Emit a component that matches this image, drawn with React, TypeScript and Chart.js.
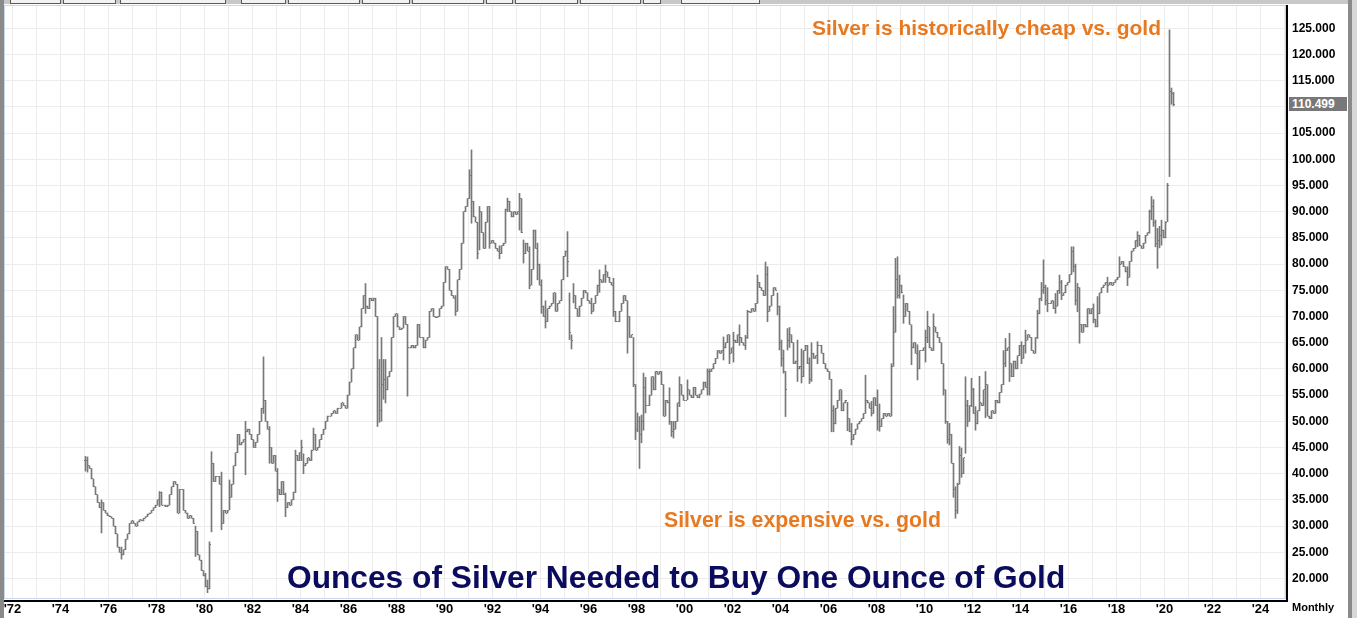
import React, { useEffect, useRef } from 'react';
import { Chart, registerables } from 'chart.js';

Chart.register(...registerables);

// ---------------- data (monthly gold / silver ratio) ----------------
const START_YEAR = 1975;

const close1970s = [
  42.5, 41.5, 41.0, 39.0, 37.5, 36.0, 34.5, 33.5, 34.5, 33.0, 32.5, 32.0,
  31.8, 31.5, 30.0, 28.5, 26.0, 25.0, 24.5, 25.5, 27.5, 28.5, 30.5, 31.0,
  30.5, 30.0, 30.8, 31.2, 31.0, 31.5, 31.8, 32.3, 32.5, 33.0, 33.5, 34.0,
  35.0, 36.5, 34.0, 34.0, 33.7, 34.0, 36.0, 37.5, 38.5, 38.0, 32.5, 37.0,
  37.0, 33.0, 32.5, 31.5, 32.0, 31.5, 30.5, 29.0, 24.5, 23.5, 21.5, 20.5,
];

const close1980s = [
  18.5, 18.0, 26.5, 42.0, 38.5, 39.5, 39.5, 38.0, 30.5, 33.0, 32.5, 33.0,
  35.5, 38.0, 41.5, 44.0, 47.5, 45.5, 46.0, 46.5, 48.0, 48.5, 47.5, 46.5,
  45.0, 46.0, 47.5, 50.0, 52.5, 54.0, 50.0, 48.5, 45.0, 42.0, 43.5, 40.5,
  37.0, 36.0, 38.5, 36.0, 33.5, 34.5, 34.0, 35.0, 36.5, 43.5, 42.5, 44.0,
  45.0, 41.5, 42.0, 43.0, 42.5, 44.5, 47.5, 44.5, 45.0, 46.5, 47.5, 48.5,
  50.0, 51.0, 51.0, 51.5, 52.0, 51.5, 52.5, 52.5, 53.5, 53.0, 52.5, 55.0,
  57.5, 60.0, 64.0, 66.5, 65.5, 68.0, 71.5, 74.0, 72.0, 71.5, 73.5, 73.0,
  73.5, 70.0, 60.0, 52.0, 57.0, 58.0, 56.0, 58.5, 59.5, 66.0, 70.0, 70.5,
  68.0, 67.5, 67.8, 70.0, 68.5, 64.0, 64.0, 64.5, 64.0, 64.5, 68.5, 66.0,
  66.0, 64.0, 65.5, 66.0, 71.0, 71.5, 70.0, 69.8, 70.0, 71.5, 72.0, 76.5,
];

const close1990s = [
  79.5, 79.0, 75.0, 74.0, 73.5, 71.0, 77.0, 79.0, 84.0, 90.0, 91.0, 92.5,
  97.0, 92.0, 89.0, 88.0, 82.0, 90.0, 86.0, 83.0, 88.0, 91.0, 84.0, 84.5,
  84.0, 83.0, 82.5, 82.0, 83.5, 84.0, 90.5, 92.0, 90.0, 89.0, 90.0, 89.5,
  90.0, 92.5, 86.0, 82.0, 84.0, 82.5, 76.0, 79.0, 86.5, 83.0, 80.0, 76.0,
  72.0, 70.0, 69.0, 71.5, 72.0, 72.5, 74.5, 71.0, 72.5, 73.0, 77.0, 81.5,
  82.5, 80.5, 67.0, 65.5, 74.0, 71.5, 70.0, 72.0, 73.5, 75.0, 74.5, 73.0,
  72.5, 71.0, 72.5, 74.0, 76.0, 77.0, 76.5, 78.0, 78.5, 77.5, 76.5, 76.0,
  71.0, 69.0, 69.0, 71.0, 72.5, 74.0, 73.0, 70.0, 66.0, 66.5, 57.0, 48.5,
  50.0, 47.5, 50.0, 56.5, 53.0, 53.0, 55.0, 58.5, 56.0, 59.5, 59.0, 59.5,
  57.0, 51.0, 54.0, 53.5, 50.0, 48.0, 48.5, 50.0, 53.5, 57.0, 55.0, 54.0,
];

const close2000s = [
  54.0, 56.0, 55.0, 54.5, 56.5, 55.0, 54.5, 55.2, 56.0, 57.5, 56.5, 59.5,
  59.5, 60.0, 61.0, 62.0, 63.5, 63.0, 63.5, 64.0, 65.0, 66.5, 63.0, 64.0,
  65.5, 65.0, 66.5, 66.0, 65.0, 64.5, 66.0, 71.0, 70.8, 71.5, 71.0, 72.5,
  76.5, 75.5, 75.0, 74.0, 78.0, 71.0, 72.0, 74.0, 75.5, 75.0, 72.0, 65.0,
  62.0, 59.5, 56.0, 65.5, 66.5, 65.0, 61.0, 61.5, 60.0, 60.5, 58.5, 63.5,
  64.5, 61.0, 58.0, 63.0, 62.0, 62.5, 64.5, 64.5, 63.0, 61.0, 60.0, 59.5,
  58.0, 52.0, 49.5, 52.5, 54.0, 56.0, 52.0, 53.5, 54.0, 50.5, 48.0, 46.5,
  47.5, 48.5, 49.5, 50.0, 50.5, 51.5, 54.0, 53.5, 52.5, 51.5, 54.5, 53.0,
  50.0, 49.0, 50.5, 51.5, 51.0, 51.5, 51.0, 60.5, 67.0, 77.0, 74.0, 76.0,
  74.5, 70.0, 72.5, 71.0, 68.5, 64.0, 65.0, 63.0, 60.0, 63.5, 63.5, 64.0,
];

const close2010s = [
  66.0, 68.0, 64.0, 63.5, 68.0, 67.0, 66.0, 65.0, 61.0, 56.0, 50.0, 46.5,
  47.5, 42.0, 37.0, 33.0, 38.0, 43.5, 40.0, 43.0, 53.0, 50.0, 53.0, 56.0,
  51.5, 49.5, 52.0, 53.5, 53.0, 56.0, 57.0, 51.0, 50.5, 52.0, 51.5, 54.0,
  53.5, 55.5, 57.0, 61.0, 63.5, 64.0, 61.0, 58.5, 61.5, 60.0, 62.5, 64.5,
  62.0, 64.5, 65.5, 66.5, 66.0, 63.5, 63.0, 66.0, 70.5, 73.5, 75.0, 75.5,
  73.0, 72.5, 72.5, 73.0, 71.5, 72.0, 75.0, 76.5, 74.0, 74.5, 76.0, 76.5,
  78.0, 82.5, 79.5, 73.0, 75.5, 68.5, 67.0, 68.5, 68.0, 71.5, 70.5, 71.5,
  69.5, 68.0, 70.5, 74.5, 75.5, 76.0, 76.5, 76.0, 76.5, 76.0, 76.5, 77.0,
  77.5, 80.0, 80.5, 79.5, 78.5, 77.5, 80.5, 82.5, 83.0, 84.5, 85.5, 83.5,
  83.0, 84.0, 85.5, 86.0, 90.0, 91.0, 88.0, 84.0, 84.5, 85.5, 86.5, 85.0,
];

const close2020s = [88.0, 95.0, 113.0, 112.5, 110.499];

// monthly bars whose high / low reach beyond the previous and current close
const barRanges: [string, number, number][] = [
  ['1975-01', 40.5, 43.3], ['1975-02', 40.3, 43.2], ['1975-09', 28.7, 35.0],
  ['1976-07', 23.7, 26.0], ['1978-02', 33.7, 36.6], ['1979-08', 24.2, 30.0],
  ['1980-01', 18.4, 21.0], ['1980-02', 17.3, 19.7], ['1980-03', 18.0, 27.0], ['1980-04', 28.9, 44.2], ['1980-09', 29.3, 40.3],
  ['1981-01', 33.1, 38.8], ['1981-09', 39.8, 50.0],
  ['1982-06', 51.5, 62.3], ['1982-09', 42.0, 49.0],
  ['1983-01', 34.7, 41.0], ['1983-05', 31.8, 36.3], ['1983-10', 36.4, 44.5],
  ['1984-01', 42.5, 46.4], ['1984-02', 40.0, 43.8], ['1984-07', 44.5, 48.7],
  ['1986-09', 70.6, 76.3],
  ['1987-03', 49.0, 70.0], ['1987-04', 49.8, 61.8], ['1987-05', 50.0, 66.0], ['1987-06', 54.2, 61.8], ['1987-07', 53.5, 61.8],
  ['1988-06', 54.8, 68.5], ['1990-06', 70.2, 74.0],
  ['1991-01', 92.5, 98.0], ['1991-02', 87.8, 101.8], ['1991-05', 81.0, 88.0], ['1991-06', 82.7, 91.0], ['1991-11', 83.0, 91.0],
  ['1992-04', 81.0, 83.5], ['1992-08', 90.0, 92.6],
  ['1993-02', 86.5, 93.5], ['1993-04', 80.2, 84.6], ['1993-07', 75.3, 83.3], ['1993-11', 77.0, 84.0],
  ['1994-01', 70.6, 77.0], ['1994-03', 67.8, 73.0],
  ['1995-02', 77.6, 86.2], ['1995-03', 65.6, 74.5], ['1995-04', 63.8, 66.5], ['1995-05', 72.6, 76.3],
  ['1996-02', 70.5, 73.5], ['1996-06', 74.6, 78.9], ['1996-09', 76.5, 79.8],
  ['1997-01', 70.0, 77.3], ['1997-08', 63.0, 73.0], ['1997-11', 56.6, 66.0], ['1997-12', 46.5, 57.0],
  ['1998-01', 48.0, 51.6], ['1998-02', 41.0, 50.9], ['1998-03', 45.9, 51.2], ['1998-04', 48.3, 59.2], ['1998-05', 51.6, 58.4],
  ['1999-05', 49.4, 56.4], ['1999-06', 47.1, 50.0], ['1999-07', 46.8, 50.0], ['1999-10', 52.8, 58.5],
  ['2000-02', 54.1, 57.9], ['2000-12', 55.0, 60.0],
  ['2001-01', 55.0, 60.0], ['2001-08', 61.7, 66.1], ['2001-11', 61.0, 66.5],
  ['2002-01', 61.3, 67.0], ['2002-04', 64.5, 68.4], ['2002-07', 63.7, 66.4], ['2002-08', 65.8, 71.2],
  ['2003-01', 72.5, 77.9], ['2003-05', 74.0, 80.4], ['2003-06', 69.0, 79.5], ['2003-11', 70.3, 74.5], ['2003-12', 63.6, 72.0],
  ['2004-01', 60.5, 65.5], ['2004-02', 59.2, 63.6], ['2004-03', 50.9, 59.5], ['2004-04', 63.6, 67.7], ['2004-05', 64.1, 67.9],
  ['2004-09', 57.6, 65.5], ['2004-11', 57.3, 63.8],
  ['2005-03', 57.2, 62.1], ['2005-04', 57.6, 65.0], ['2005-07', 61.0, 65.2],
  ['2006-02', 48.0, 58.0], ['2006-03', 48.0, 53.0], ['2006-10', 48.2, 53.6], ['2006-12', 45.5, 49.6],
  ['2007-07', 51.5, 58.8], ['2007-10', 51.0, 53.8],
  ['2008-01', 48.3, 56.0], ['2008-02', 48.1, 53.3], ['2008-08', 51.0, 61.0], ['2008-09', 60.5, 71.9],
  ['2008-10', 67.0, 81.1], ['2008-11', 73.5, 81.4], ['2008-12', 73.5, 77.9],
  ['2009-02', 68.7, 74.1], ['2009-06', 60.8, 68.4], ['2009-09', 57.9, 64.6],
  ['2010-01', 61.3, 67.4], ['2010-02', 65.0, 71.0], ['2010-05', 63.5, 70.5], ['2010-10', 55.0, 61.0],
  ['2010-11', 49.6, 56.0], ['2010-12', 45.8, 50.0],
  ['2011-01', 45.5, 49.6], ['2011-03', 35.5, 42.0], ['2011-04', 31.5, 37.5], ['2011-05', 32.4, 38.2],
  ['2011-06', 38.0, 45.2], ['2011-07', 39.3, 44.9], ['2011-09', 43.9, 58.5], ['2011-10', 49.0, 54.0], ['2011-12', 52.8, 58.2],
  ['2012-01', 51.5, 56.3], ['2012-02', 48.3, 52.8], ['2012-04', 52.0, 58.6], ['2012-07', 50.7, 59.5],
  ['2013-04', 57.0, 63.5], ['2013-05', 60.4, 65.8], ['2013-07', 57.6, 66.8],
  ['2014-01', 61.0, 65.2], ['2014-03', 63.0, 67.4], ['2014-09', 65.8, 71.2], ['2014-11', 73.0, 76.5], ['2014-12', 74.4, 80.8],
  ['2015-01', 72.2, 76.0], ['2015-02', 70.9, 75.5], ['2015-06', 70.6, 74.4], ['2015-08', 74.4, 77.9], ['2015-09', 73.2, 76.9],
  ['2016-02', 78.0, 83.3], ['2016-03', 78.5, 83.3], ['2016-04', 72.2, 80.0], ['2016-05', 70.9, 76.3], ['2016-06', 64.9, 75.5],
  ['2017-01', 68.8, 72.4], ['2017-03', 68.0, 73.8], ['2017-08', 74.6, 77.5],
  ['2018-02', 77.5, 81.4], ['2018-06', 75.9, 79.5], ['2018-11', 83.3, 86.2],
  ['2019-05', 85.9, 90.3], ['2019-06', 88.5, 92.9], ['2019-07', 87.2, 92.3], ['2019-08', 83.3, 88.4],
  ['2019-09', 79.2, 86.8], ['2019-10', 83.1, 87.2], ['2019-11', 83.6, 88.4],
  ['2020-01', 85.0, 88.1], ['2020-02', 88.1, 95.4], ['2020-03', 96.7, 124.7], ['2020-04', 110.5, 113.6], ['2020-05', 110.2, 112.8],
];

const LAST_VALUE = 110.499;
const TITLE = 'Ounces of Silver Needed to Buy One Ounce of Gold';
const NOTE_CHEAP = 'Silver is historically cheap vs. gold';
const NOTE_EXPENSIVE = 'Silver is expensive vs. gold';
const PERIOD_LABEL = 'Monthly';

// ---------------- layout / style ----------------
const W = 1357;
const H = 618;
const X_MIN = 1971.6458333;
const X_MAX = 2025.0625;
const Y_MIN = 16.088;
const Y_MAX = 129.447;
const BAR_COLOR = '#787878';
const GRID_COLOR = '#ececec';
const FRAME_BLUE = '#c6d6ef';
const FONT = "'Liberation Sans', Arial, Helvetica, sans-serif";

type Bar = { x: number; y: [number, number]; open: number; close: number };

const closes = [...close1970s, ...close1980s, ...close1990s, ...close2000s, ...close2010s, ...close2020s];
const rangeMap = new Map(barRanges.map(([k, lo, hi]) => [k, [lo, hi] as [number, number]]));

const bars: Bar[] = closes.map((c, i) => {
  const year = START_YEAR + Math.floor(i / 12);
  const m = i % 12;
  const key = `${year}-${String(m + 1).padStart(2, '0')}`;
  const prev = i > 0 ? closes[i - 1] : c;
  const r = rangeMap.get(key);
  const lo = r ? Math.min(r[0], c) : Math.min(prev, c);
  const hi = r ? Math.max(r[1], c) : Math.max(prev, c);
  return { x: year + (m + 0.5) / 12, y: [lo, hi], open: prev, close: c };
});

const ohlcTicks = {
  id: 'ohlcTicks',
  afterDatasetsDraw(chart: any) {
    const { ctx, scales } = chart;
    const xs = scales.x;
    const ys = scales.y;
    ctx.save();
    ctx.fillStyle = BAR_COLOR;
    bars.forEach((b) => {
      const cx = Math.floor(xs.getPixelForValue(b.x));
      if (b.open >= b.y[0] && b.open <= b.y[1]) {
        ctx.fillRect(cx - 1, Math.floor(ys.getPixelForValue(b.open)), 1, 1);
      }
      ctx.fillRect(cx + 1, Math.floor(ys.getPixelForValue(b.close)), 1, 1);
    });
    ctx.restore();
  },
};

const frame = {
  id: 'frame',
  afterDraw(chart: any) {
    const { ctx, chartArea: a } = chart;
    ctx.save();
    ctx.strokeStyle = FRAME_BLUE;
    ctx.lineWidth = 1;
    ctx.strokeRect(a.left + 0.5, a.top + 0.5, a.right - a.left - 1, a.bottom - a.top - 1);
    ctx.fillStyle = '#000';
    ctx.fillRect(a.right, a.top, 2, a.bottom - a.top + 3);
    ctx.fillRect(a.left - 1, a.bottom + 1, a.right - a.left + 3, 2);
    ctx.restore();
  },
};

const yFont = { family: FONT, size: 12, weight: 'bold' as const };
const xFont = { family: FONT, size: 13, weight: 'bold' as const };

const toolbarButtons: [number, number][] = [
  [10, 61], [63, 116], [120, 226], [241, 286], [288, 360], [362, 410], [412, 484],
  [486, 513], [515, 578], [580, 641], [643, 661], [681, 760],
];

export default function App() {
  const ref = useRef<HTMLCanvasElement | null>(null);

  useEffect(() => {
    if (!ref.current) return;
    const chart = new Chart(ref.current, {
      type: 'bar',
      data: {
        datasets: [
          {
            label: 'Gold/Silver ratio',
            data: bars as any,
            backgroundColor: BAR_COLOR,
            borderWidth: 0,
            barThickness: 1,
            grouped: false,
          } as any,
        ],
      },
      options: {
        responsive: false,
        animation: false,
        devicePixelRatio: 1,
        layout: { padding: { left: 4, top: 5, right: 8, bottom: 0 } },
        plugins: { legend: { display: false }, tooltip: { enabled: false }, title: { display: false } },
        scales: {
          x: {
            type: 'linear',
            min: X_MIN,
            max: X_MAX,
            offset: false,
            ticks: {
              stepSize: 1,
              includeBounds: false,
              autoSkip: false,
              maxRotation: 0,
              padding: 3,
              color: '#000',
              font: xFont,
              callback: (v: any) => (Number(v) % 2 === 0 ? "'" + String(v).slice(2) : ''),
            },
            grid: { color: GRID_COLOR, drawTicks: false, lineWidth: 1, offset: false },
            border: { display: false },
            afterFit: (s: any) => {
              s.height = 19;
              s.paddingLeft = 0;
              s.paddingRight = 0;
            },
          },
          y: {
            type: 'linear',
            position: 'right',
            min: Y_MIN,
            max: Y_MAX,
            ticks: {
              stepSize: 5,
              includeBounds: false,
              autoSkip: false,
              padding: 6,
              color: '#000',
              font: yFont,
              callback: (v: any) => (Number(v) === 110 ? '' : Number(v).toFixed(3)),
            },
            grid: { color: GRID_COLOR, drawTicks: false, lineWidth: 1 },
            border: { display: false },
            afterFit: (s: any) => {
              s.width = 63;
              s.paddingTop = 0;
              s.paddingBottom = 0;
            },
          },
        },
      },
      plugins: [ohlcTicks, frame],
    } as any);
    return () => chart.destroy();
  }, []);

  return (
    <div
      style={{
        position: 'fixed',
        left: 0,
        top: 0,
        width: W,
        height: H,
        background: '#fff',
        overflow: 'hidden',
        fontFamily: FONT,
      }}
    >
      <canvas ref={ref} width={W} height={H} style={{ position: 'absolute', left: 0, top: 0, width: W, height: H }} />
      {/* window chrome */}
      <div style={{ position: 'absolute', left: 0, top: 0, width: 4, height: H, background: '#8a8a8a' }} />
      <div style={{ position: 'absolute', left: 1348, top: 0, width: 4, height: H, background: '#8a8a8a' }} />
      <div style={{ position: 'absolute', left: 1352, top: 0, width: 5, height: H, background: '#d8d8d8' }} />
      <div style={{ position: 'absolute', left: 4, top: 0, width: 1344, height: 4, background: '#c8c8c8' }} />
      {toolbarButtons.map(([a, b], i) => (
        <div
          key={i}
          style={{
            position: 'absolute',
            left: a,
            top: -10,
            width: b - a - 2,
            height: 12,
            border: '1px solid #5a5a5a',
            background: '#f2f2f2',
          }}
        />
      ))}
      {/* annotations */}
      <div
        style={{
          position: 'absolute',
          left: 812,
          top: 17,
          fontSize: 21,
          lineHeight: '21px',
          fontWeight: 'bold',
          color: '#e8791f',
          whiteSpace: 'nowrap',
        }}
      >
        {NOTE_CHEAP}
      </div>
      <div
        style={{
          position: 'absolute',
          left: 664,
          top: 510,
          fontSize: 21.3,
          lineHeight: '21px',
          fontWeight: 'bold',
          color: '#e8791f',
          whiteSpace: 'nowrap',
        }}
      >
        {NOTE_EXPENSIVE}
      </div>
      <div
        style={{
          position: 'absolute',
          left: 287,
          top: 561,
          fontSize: 31.7,
          lineHeight: '32px',
          fontWeight: 'bold',
          color: '#0c0c5e',
          whiteSpace: 'nowrap',
        }}
      >
        {TITLE}
      </div>
      {/* last value marker */}
      <div
        style={{
          position: 'absolute',
          left: 1289,
          top: 97,
          width: 58,
          height: 14,
          background: '#787878',
          color: '#fff',
          fontSize: 12,
          lineHeight: '14px',
          fontWeight: 'bold',
          paddingLeft: 3,
          boxSizing: 'border-box',
        }}
      >
        {LAST_VALUE.toFixed(3)}
      </div>
      <div
        style={{
          position: 'absolute',
          left: 1292,
          top: 602,
          fontSize: 11,
          lineHeight: '11px',
          fontWeight: 'bold',
          color: '#000',
        }}
      >
        {PERIOD_LABEL}
      </div>
    </div>
  );
}
